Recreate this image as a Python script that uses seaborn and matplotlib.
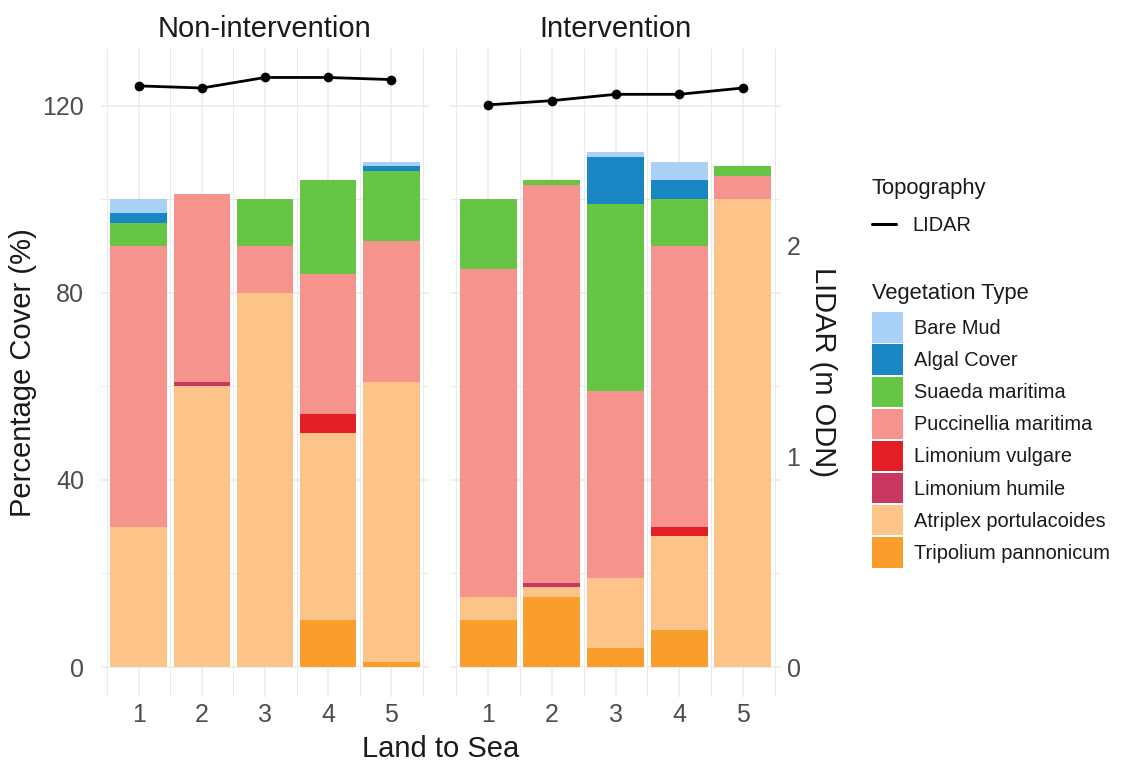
import numpy as np
import pandas as pd
import matplotlib
matplotlib.use("Agg")
import matplotlib.pyplot as plt
from matplotlib.patches import Patch
from matplotlib.lines import Line2D
import seaborn as sns

# ---- data -------------------------------------------------------------
positions = [1, 2, 3, 4, 5]
sites = ["Non-intervention", "Intervention"]

veg_types = ["Bare Mud", "Algal Cover", "Suaeda maritima", "Puccinellia maritima",
             "Limonium vulgare", "Limonium humile", "Atriplex portulacoides",
             "Tripolium pannonicum"]
veg_colors = ["#a9d1f7", "#1a87c5", "#66c544", "#f6938d",
              "#e31e24", "#c8375f", "#fdc48a", "#f99d2c"]

# percentage cover, Non-intervention transect (positions 1-5)
non_bare_mud = [3, 0, 0, 0, 1]
non_algal = [2, 0, 0, 0, 1]
non_suaeda = [5, 0, 10, 20, 15]
non_puccinellia = [60, 40, 10, 30, 30]
non_lim_vulgare = [0, 0, 0, 4, 0]
non_lim_humile = [0, 1, 0, 0, 0]
non_atriplex = [30, 60, 80, 40, 60]
non_tripolium = [0, 0, 0, 10, 1]

# percentage cover, Intervention transect (positions 1-5)
int_bare_mud = [0, 0, 1, 4, 0]
int_algal = [0, 0, 10, 4, 0]
int_suaeda = [15, 1, 40, 10, 2]
int_puccinellia = [70, 85, 40, 60, 5]
int_lim_vulgare = [0, 0, 0, 2, 0]
int_lim_humile = [0, 1, 0, 0, 0]
int_atriplex = [5, 2, 15, 20, 100]
int_tripolium = [10, 15, 4, 8, 0]

# LIDAR elevation (m ODN)
lidar_non = [2.76, 2.75, 2.80, 2.80, 2.79]
lidar_int = [2.67, 2.69, 2.72, 2.72, 2.75]
lidar_scale = 45  # % cover units per metre on the secondary axis

cover = {
    "Non-intervention": [non_bare_mud, non_algal, non_suaeda, non_puccinellia,
                         non_lim_vulgare, non_lim_humile, non_atriplex, non_tripolium],
    "Intervention": [int_bare_mud, int_algal, int_suaeda, int_puccinellia,
                     int_lim_vulgare, int_lim_humile, int_atriplex, int_tripolium],
}
lidar = {"Non-intervention": lidar_non, "Intervention": lidar_int}

rows = []
for site in sites:
    for vt, vals in zip(veg_types, cover[site]):
        for p, v in zip(positions, vals):
            rows.append((site, p, vt, v))
df = pd.DataFrame(rows, columns=["site", "position", "veg", "cover"])

lid_rows = []
for site in sites:
    for p, v in zip(positions, lidar[site]):
        lid_rows.append((site, p, v))
lid_df = pd.DataFrame(lid_rows, columns=["site", "position", "lidar"])
lid_df["scaled"] = lid_df["lidar"] * lidar_scale

color_map = dict(zip(veg_types, veg_colors))

# ---- style ------------------------------------------------------------
sns.set_theme(style="white")
plt.rcParams["font.family"] = ["Liberation Sans", "DejaVu Sans"]

TICK_COL = "#4d4d4d"
TEXT_COL = "#1a1a1a"
GRID_COL = "#ebebeb"
TITLE_SIZE = 21
TICK_SIZE = 18

fig = plt.figure(figsize=(11.21, 7.61), dpi=100)
panel_top, panel_bottom = 48, 696.5
panel_y0 = 1 - panel_bottom / 761
panel_h = (panel_bottom - panel_top) / 761
ax_l = fig.add_axes([101 / 1121, panel_y0, 328 / 1121, panel_h])
ax_r = fig.add_axes([450 / 1121, panel_y0, 331 / 1121, panel_h], sharey=ax_l)
axes = [ax_l, ax_r]

ymax = max(lid_df["scaled"].max(), df.groupby(["site", "position"])["cover"].sum().max())
pad = 0.05 * ymax

for ax, site in zip(axes, sites):
    sub = df[df["site"] == site]
    bottom = np.zeros(len(positions))
    # stack from the ground layer upwards
    for vt in reversed(veg_types):
        layer = sub[sub["veg"] == vt].sort_values("position")
        sns.barplot(data=layer, x="position", y="cover", native_scale=True,
                    width=0.9, color=color_map[vt], saturation=1,
                    errorbar=None, bottom=bottom, linewidth=0, ax=ax, zorder=2)
        bottom = bottom + layer["cover"].to_numpy()

    ld = lid_df[lid_df["site"] == site]
    sns.lineplot(data=ld, x="position", y="scaled", ax=ax, color="black",
                 linewidth=2.0, marker="o", markersize=7, markeredgewidth=0,
                 zorder=5)

    ax.set_xlim(0.4, 5.6)
    ax.set_ylim(-pad, ymax + pad)
    ax.set_xticks(positions)
    ax.set_xticks(np.arange(0.5, 6.0, 1.0), minor=True)
    ax.set_yticks([0, 40, 80, 120])
    ax.set_yticks([20, 60, 100], minor=True)
    ax.set_xticklabels([str(p) for p in positions])
    ax.grid(which="major", color=GRID_COL, linewidth=1.1, zorder=0)
    ax.grid(which="minor", color=GRID_COL, linewidth=0.7, zorder=0)
    ax.set_axisbelow(True)
    for s in ax.spines.values():
        s.set_visible(False)
    ax.tick_params(which="both", length=0)
    ax.tick_params(axis="x", labelsize=TICK_SIZE, labelcolor=TICK_COL, pad=5)
    ax.tick_params(axis="y", labelsize=TICK_SIZE, labelcolor=TICK_COL, pad=12)
    ax.set_xlabel("")
    ax.set_ylabel("")
    ax.set_title(site, fontsize=TITLE_SIZE, color=TEXT_COL, pad=8)

ax_r.tick_params(axis="y", labelleft=False)

sec = ax_r.secondary_yaxis("right", functions=(lambda v: v / lidar_scale,
                                               lambda v: v * lidar_scale))
sec.set_yticks([0, 1, 2])
sec.tick_params(length=0, labelsize=TICK_SIZE, labelcolor=TICK_COL, pad=4)
for s in sec.spines.values():
    s.set_visible(False)
sec.set_ylabel("LIDAR (m ODN)", rotation=270, fontsize=TITLE_SIZE,
               color=TEXT_COL, labelpad=26)

fig.text(441 / 1121, 1 - 749 / 761, "Land to Sea", ha="center", va="center",
         fontsize=TITLE_SIZE, color=TEXT_COL)
fig.text(23 / 1121, 1 - (panel_top + panel_bottom) / 2 / 761,
         "Percentage Cover (%)", ha="center", va="center", rotation=90,
         fontsize=TITLE_SIZE, color=TEXT_COL)

# ---- legends ----------------------------------------------------------
LEG_TEXT = 14.4
LEG_TITLE = 15.8

topo_handles = [Line2D([0], [0], color="black", linewidth=2.2)]
leg1 = fig.legend(topo_handles, ["LIDAR"], title="Topography",
                  loc="upper left", bbox_to_anchor=(862 / 1121, 1 - 168 / 761),
                  frameon=False, borderpad=0, alignment="left",
                  fontsize=LEG_TEXT, title_fontsize=LEG_TITLE,
                  handlelength=1.2, handletextpad=0.8)
leg1._legend_box.sep = 12.5

veg_handles = [Patch(facecolor=c, edgecolor="none") for c in veg_colors]
leg2 = fig.legend(veg_handles, veg_types, title="Vegetation Type",
                  loc="upper left", bbox_to_anchor=(862 / 1121, 1 - 273 / 761),
                  frameon=False, borderpad=0, alignment="left",
                  fontsize=LEG_TEXT, title_fontsize=LEG_TITLE,
                  handlelength=1.55, handleheight=1.95, labelspacing=0.095,
                  handletextpad=0.55)
leg2._legend_box.sep = 6

for leg in (leg1, leg2):
    leg.get_title().set_color(TEXT_COL)
    for t in leg.get_texts():
        t.set_color(TEXT_COL)

fig.savefig("out.png", dpi=100)
